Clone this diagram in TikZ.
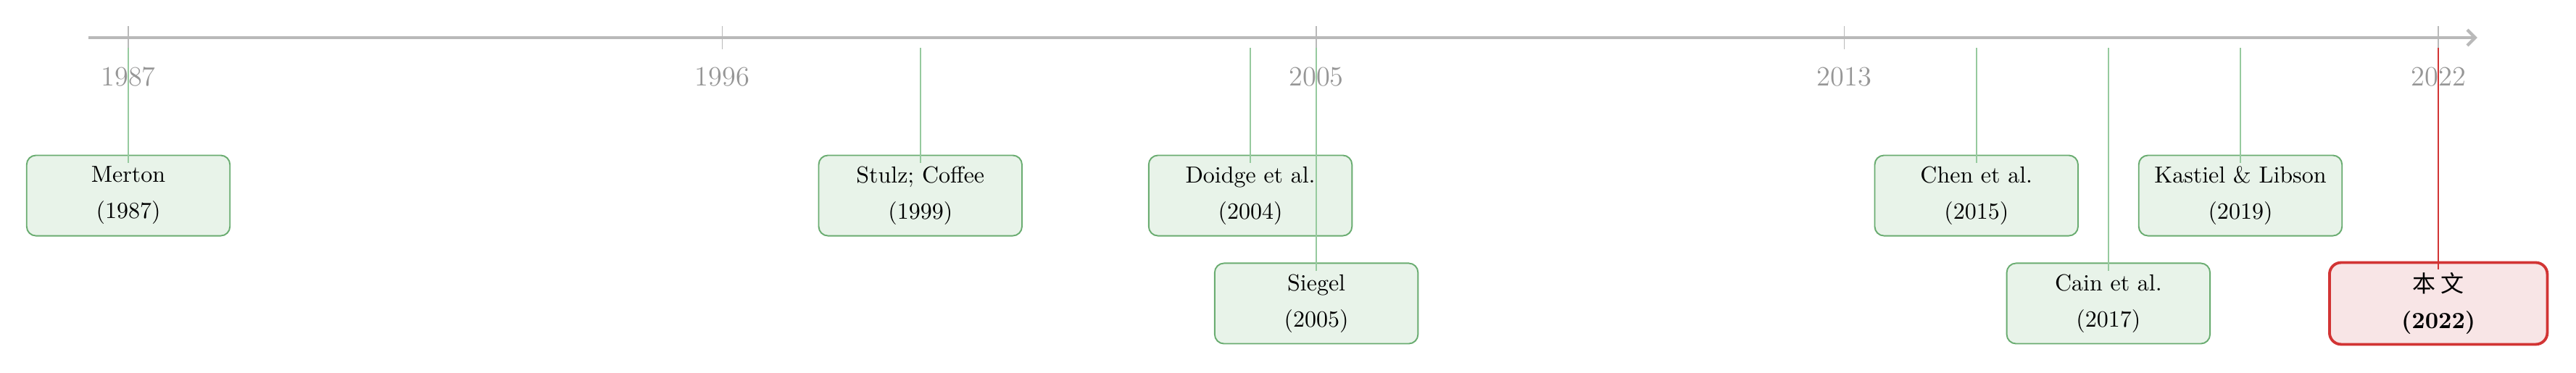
\documentclass[tikz,border=0pt]{standalone}
\usepackage{fontspec}
\newfontfamily\cjk{Noto Sans CJK SC}
\usetikzlibrary{arrows.meta, positioning}

\definecolor{axisgray}{RGB}{185,185,185}
\definecolor{labelgray}{RGB}{150,150,150}
\definecolor{boxgreen}{RGB}{105,172,112}
\definecolor{fillgreen}{RGB}{232,243,233}
\definecolor{linkgreen}{RGB}{150,202,158}
\definecolor{boxred}{RGB}{210,52,52}
\definecolor{fillred}{RGB}{248,229,230}

\begin{document}
\begin{tikzpicture}[
    axis/.style={draw=axisgray, line width=1.35pt, -{Straight Barb[length=3.4pt,width=6.8pt]}},
    tick/.style={draw=axisgray, line width=0.5pt},
    yearlabel/.style={text=labelgray, font=\large},
    paper/.style={draw=boxgreen, fill=fillgreen, line width=0.6pt, rounded corners=4pt,
        minimum width=3.08cm, minimum height=1.22cm, align=center, inner sep=2pt},
    ours/.style={draw=boxred, fill=fillred, line width=1.2pt, rounded corners=5pt,
        minimum width=3.3cm, minimum height=1.24cm, align=center, inner sep=2pt, font=\bfseries},
    link/.style={draw=linkgreen, line width=0.5pt},
    ourlink/.style={draw=boxred, line width=0.6pt}
]
    \useasboundingbox (-1.944,0.571) rectangle (37.085,-5.074);

    % time axis
    \coordinate (start) at (-0.604,0);
    \coordinate (end) at (35.59,0);
    \draw[axis] (start) -- (end);

    % ticks and years
    \foreach \yr/\x in {1987/0, 1996/9, 2005/18, 2013/26, 2022/35} {
        \draw[tick] (\x,0.176) -- (\x,-0.176);
        \node[yearlabel] (l\yr) at (\x,-0.593) {\yr};
    }

    % papers
    \node[paper] (merton) at (0,-2.394) {Merton\\[3.6pt](1987)};
    \node[paper] (stulz) at (12,-2.394) {Stulz; Coffee\\[3.6pt](1999)};
    \node[paper] (doidge) at (17,-2.394) {Doidge et al.\\[3.6pt](2004)};
    \node[paper] (siegel) at (18,-4.03) {Siegel\\[3.6pt](2005)};
    \node[paper] (chen) at (28,-2.394) {Chen et al.\\[3.6pt](2015)};
    \node[paper] (cain) at (30,-4.03) {Cain et al.\\[3.6pt](2017)};
    \node[paper] (kastiel) at (32,-2.394) {Kastiel \& Libson\\[3.6pt](2019)};
    \node[ours] (this) at (35,-4.03) {{\cjk\mdseries 本\ 文}\\[3.6pt](2022)};

    % links from the axis
    \coordinate (a1987) at (0,-0.154);
    \coordinate (a1999) at (12,-0.154);
    \coordinate (a2004) at (17,-0.154);
    \coordinate (a2005) at (18,-0.154);
    \coordinate (a2015) at (28,-0.154);
    \coordinate (a2017) at (30,-0.154);
    \coordinate (a2019) at (32,-0.154);
    \coordinate (a2022) at (35,-0.154);
    \draw[link] (a1987) -- ([yshift=-0.13cm]merton.north);
    \draw[link] (a1999) -- ([yshift=-0.13cm]stulz.north);
    \draw[link] (a2004) -- ([yshift=-0.13cm]doidge.north);
    \draw[link] (a2005) -- ([yshift=-0.13cm]siegel.north);
    \draw[link] (a2015) -- ([yshift=-0.13cm]chen.north);
    \draw[link] (a2017) -- ([yshift=-0.13cm]cain.north);
    \draw[link] (a2019) -- ([yshift=-0.13cm]kastiel.north);
    \draw[ourlink] (a2022) -- ([yshift=-0.13cm]this.north);
\end{tikzpicture}
\end{document}
